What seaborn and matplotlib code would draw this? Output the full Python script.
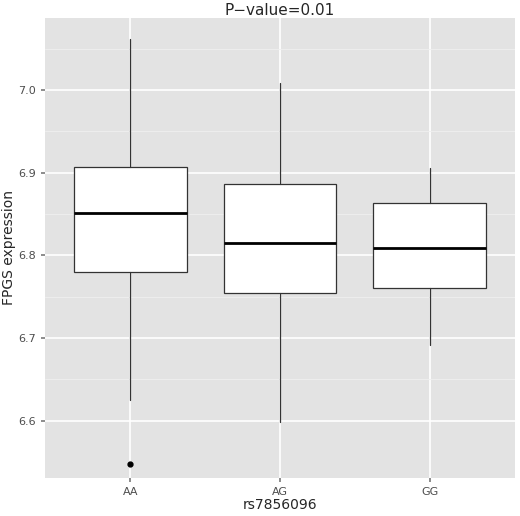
import matplotlib
matplotlib.use("Agg")
import matplotlib.pyplot as plt
import seaborn as sns

genotypes = ["AA", "AG", "GG"]
whisker_low = [6.625, 6.599, 6.692]
q1 = [6.780, 6.755, 6.760]
median = [6.851, 6.815, 6.809]
q3 = [6.907, 6.886, 6.863]
whisker_high = [7.062, 7.008, 6.906]
outliers = [[6.548], [], []]

sns.set_theme(style="darkgrid", rc={"axes.facecolor": "#E3E3E3", "grid.color": "white"})
fig, ax = plt.subplots(figsize=(5.2, 5.16), dpi=100)

stats = [
    dict(label=g, whislo=lo, q1=a, med=m, q3=b, whishi=hi, fliers=fl)
    for g, lo, a, m, b, hi, fl in zip(genotypes, whisker_low, q1, median, q3, whisker_high, outliers)
]
ax.bxp(stats, positions=[0, 1, 2], widths=0.75, patch_artist=True,
       boxprops=dict(facecolor="white", edgecolor="#333333", linewidth=0.9),
       medianprops=dict(color="black", linewidth=2),
       whiskerprops=dict(color="#333333", linewidth=0.9),
       capprops=dict(linewidth=0),
       flierprops=dict(marker="o", markerfacecolor="black", markeredgecolor="black", markersize=3.5))

ax.set_xlim(-0.57, 2.57)
ax.set_ylim(6.531, 7.087)
ax.set_yticks([6.6, 6.7, 6.8, 6.9, 7.0])
ax.set_yticks([6.65, 6.75, 6.85, 6.95, 7.05], minor=True)
ax.grid(which="minor", axis="y", color="#F0F0F0", linewidth=0.6)
ax.grid(which="major", color="white", linewidth=1.2)
ax.tick_params(axis="both", labelsize=8, colors="#4D4D4D", length=3, color="#7F7F7F", left=True, bottom=True)
ax.set_xlabel("rs7856096", fontsize=10, labelpad=1)
ax.set_ylabel("FPGS expression", fontsize=10, labelpad=2)
ax.set_title("P\u2212value=0.01", fontsize=11, pad=2)
for s in ax.spines.values():
    s.set_visible(False)

fig.subplots_adjust(left=0.087, right=0.99, top=0.965, bottom=0.074)
fig.savefig("out.png", dpi=100)
